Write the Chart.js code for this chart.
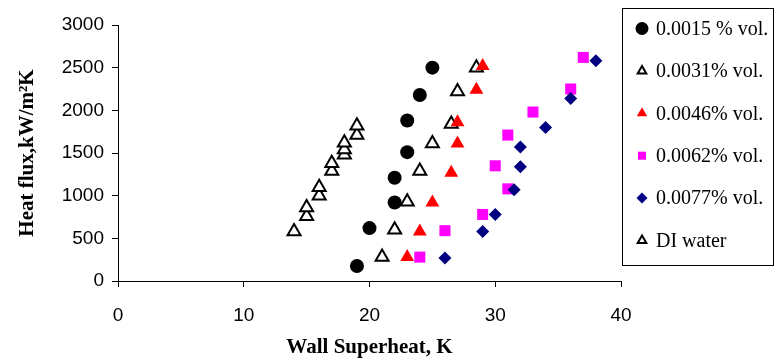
<!DOCTYPE html>
<html>
<head>
<meta charset="utf-8">
<script src="https://cdn.jsdelivr.net/npm/chart.js@4.4.1/dist/chart.umd.min.js"></script>
<style>
  html, body { margin: 0; padding: 0; background: #fff; }
  #wrap { position: relative; width: 776px; height: 360px; }
</style>
</head>
<body>
<div id="wrap"><canvas id="c" width="776" height="360"></canvas></div>
<script>
// ---- data ----
const seriesLabels = ['0.0015 % vol.', '0.0031% vol.', '0.0046% vol.', '0.0062% vol.', '0.0077% vol.', 'DI water'];

const superheat0015 = [19, 20, 22, 22, 23, 23, 24, 25];
const flux0015      = [175, 620, 920, 1210, 1510, 1880, 2180, 2500];

const superheat0031 = [21, 22, 23, 24, 25, 26.5, 27, 28.5];
const flux0031      = [280, 600, 930, 1290, 1610, 1840, 2220, 2500];

const superheat0046 = [23, 24, 25, 26.5, 27, 27, 28.5, 29];
const flux0046      = [280, 580, 920, 1270, 1610, 1860, 2240, 2520];

const superheat0062 = [24, 26, 29, 31, 30, 31, 33, 36, 37];
const flux0062      = [280, 590, 780, 1080, 1350, 1710, 1980, 2250, 2620];

const superheat0077 = [26, 29, 30, 31.5, 32, 32, 34, 36, 38];
const flux0077      = [270, 580, 780, 1070, 1340, 1570, 1800, 2140, 2580];

const superheatDI = [14, 15, 15, 16, 16, 17, 17, 18, 18, 18, 19, 19];
const fluxDI      = [580, 760, 860, 1000, 1100, 1290, 1380, 1480, 1540, 1620, 1710, 1820];

const xTicks = [0, 10, 20, 30, 40];
const yTicks = [0, 500, 1000, 1500, 2000, 2500, 3000];

// ---- styles ----
const styles = [
  { pointStyle: 'circle',   radius: 7,   bg: '#000000', border: '#000000', bw: 0, legendR: 6.5 },
  { pointStyle: 'triangle', radius: 7.5, bg: '#ffffff', border: '#000000', bw: 2, legendR: 5 },
  { pointStyle: 'triangle', radius: 8,   bg: '#ff0000', border: '#ff0000', bw: 0, legendR: 6 },
  { pointStyle: 'rect',     radius: 7.8, bg: '#ff00ff', border: '#ff00ff', bw: 0, legendR: 5.7 },
  { pointStyle: 'rectRot',  radius: 6.5, bg: '#000080', border: '#000080', bw: 0, legendR: 5.5 },
  { pointStyle: 'triangle', radius: 7.5, bg: '#ffffff', border: '#000000', bw: 2, legendR: 5 }
];

const xs = [superheat0015, superheat0031, superheat0046, superheat0062, superheat0077, superheatDI];
const ys = [flux0015, flux0031, flux0046, flux0062, flux0077, fluxDI];

const datasets = seriesLabels.map((lab, i) => ({
  label: lab,
  data: xs[i].map((x, j) => ({ x: x, y: ys[i][j] })),
  pointStyle: styles[i].pointStyle,
  pointRadius: styles[i].radius,
  pointHoverRadius: styles[i].radius,
  pointBackgroundColor: styles[i].bg,
  pointBorderColor: styles[i].border,
  pointBorderWidth: styles[i].bw,
  showLine: false,
  order: seriesLabels.length - i
}));

const legendPlugin = {
  id: 'boxLegend',
  afterDraw(chart) {
    const ctx = chart.ctx;
    ctx.save();
    ctx.strokeStyle = '#000';
    ctx.lineWidth = 1;
    ctx.strokeRect(622.5, 8.5, 151, 257);
    ctx.font = '20px "Liberation Serif", "Times New Roman", serif';
    ctx.textBaseline = 'middle';
    ctx.textAlign = 'left';
    seriesLabels.forEach((lab, i) => {
      const y = 28.5 + i * 42.4;
      const s = styles[i];
      ctx.fillStyle = s.bg;
      ctx.strokeStyle = s.border;
      ctx.lineWidth = s.bw;
      Chart.helpers.drawPoint(ctx, { pointStyle: s.pointStyle, radius: s.legendR, rotation: 0, borderWidth: s.bw }, 642, y);
      ctx.fillStyle = '#000';
      ctx.fillText(lab, 656, y + 1);
    });
    ctx.restore();
  }
};

new Chart(document.getElementById('c'), {
  type: 'scatter',
  data: { datasets },
  plugins: [legendPlugin],
  options: {
    responsive: false,
    animation: false,
    devicePixelRatio: 1,
    layout: { padding: { left: 0, right: 155, top: 25, bottom: 0 } },
    plugins: { legend: { display: false }, tooltip: { enabled: false } },
    scales: {
      x: {
        type: 'linear',
        min: 0, max: 40,
        afterBuildTicks: (s) => { s.ticks = xTicks.map(v => ({ value: v })); },
        afterFit: (s) => { s.height = 79; },
        grid: { drawOnChartArea: false, drawTicks: true, tickLength: 6, color: '#000', lineWidth: 1 },
        border: { display: true, color: '#000', width: 1 },
        ticks: { color: '#000', padding: 17, font: { family: '"Liberation Sans", Arial, sans-serif', size: 19 }, maxRotation: 0,
                 callback: (v) => String(v) },
        title: { display: true, text: 'Wall Superheat, K', color: '#000', padding: { top: 0, bottom: 0 },
                 font: { family: '"Liberation Serif", "Times New Roman", serif', size: 21, weight: 'bold' } }
      },
      y: {
        type: 'linear',
        min: 0, max: 3000,
        afterBuildTicks: (s) => { s.ticks = yTicks.map(v => ({ value: v })); },
        afterFit: (s) => { s.width = 118; },
        grid: { drawOnChartArea: false, drawTicks: true, tickLength: 6, color: '#000', lineWidth: 1 },
        border: { display: true, color: '#000', width: 1 },
        ticks: { color: '#000', padding: 8, font: { family: '"Liberation Sans", Arial, sans-serif', size: 19 },
                 callback: (v) => String(v) },
        title: { display: true, text: 'Heat flux,kW/m²K', color: '#000', padding: { top: 15, bottom: 0 },
                 font: { family: '"Liberation Serif", "Times New Roman", serif', size: 21, weight: 'bold' } }
      }
    }
  }
});
</script>
</body>
</html>
